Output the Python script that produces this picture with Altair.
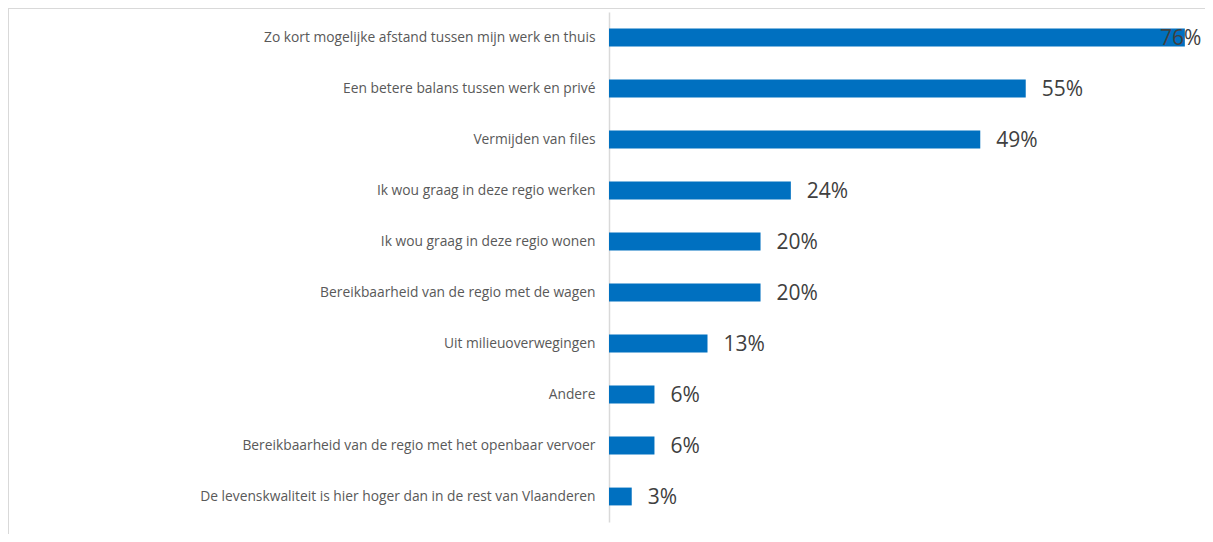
import altair as alt
import pandas as pd

categories = [
    "Zo kort mogelijke afstand tussen mijn werk en thuis",
    "Een betere balans tussen werk en privé",
    "Vermijden van files",
    "Ik wou graag in deze regio werken",
    "Ik wou graag in deze regio wonen",
    "Bereikbaarheid van de regio met de wagen",
    "Uit milieuoverwegingen",
    "Andere",
    "Bereikbaarheid van de regio met het openbaar vervoer",
    "De levenskwaliteit is hier hoger dan in de rest van Vlaanderen",
]
values = [76, 55, 49, 24, 20, 20, 13, 6, 6, 3]

df = pd.DataFrame({"cat": categories, "v": values})

y_enc = alt.Y(
    "cat:N",
    sort=categories,
    title=None,
    scale=alt.Scale(paddingInner=0.65, paddingOuter=0.325),
    axis=alt.Axis(
        domain=True,
        domainColor="#d9d9d9",
        domainWidth=1.5,
        ticks=False,
        labelPadding=14,
        labelFont="Open Sans",
        labelFontSize=13.8,
        labelColor="#595959",
        labelLimit=600,
    ),
)
x_scale = alt.Scale(domain=[0, 78], nice=False, zero=True)

base = alt.Chart(df)

bars = base.mark_bar(color="#0070c0").encode(
    x=alt.X("v:Q", scale=x_scale, axis=None),
    y=y_enc,
)

labels = base.transform_calculate(
    lab="datum.v + '%'", lx="min(datum.v, 70.6)"
).mark_text(
    align="left", baseline="middle", dx=16, dy=1, font="Open Sans", fontSize=21, color="#404040"
).encode(
    x=alt.X("lx:Q", scale=x_scale, axis=None),
    y=alt.Y("cat:N", sort=categories),
    text="lab:N",
)

border_left = alt.Chart(df).mark_rule(color="#d9d9d9", strokeWidth=1).encode(
    x=alt.value(-600.5), y=alt.value(-4), y2=alt.value(530)
)
border_top = alt.Chart(df).mark_rule(color="#d9d9d9", strokeWidth=1).encode(
    x=alt.value(-601), x2=alt.value(600), y=alt.value(-3.5)
)

chart = alt.layer(border_left, border_top, bars, labels).properties(
    width=591,
    height=510,
    autosize=alt.AutoSizeParams(type="none"),
    padding={"left": 601, "top": 4, "right": 5, "bottom": 12},
    background="white",
).configure_view(stroke=None)

chart.save("out.html", embed_options={"renderer": "svg", "actions": False})
